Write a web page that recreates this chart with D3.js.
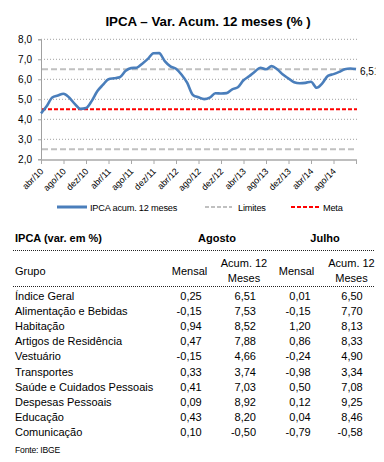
<!DOCTYPE html>
<html><head><meta charset="utf-8">
<script src="https://cdn.jsdelivr.net/npm/d3@7"></script>
<style>
html,body{margin:0;padding:0;background:#fff;overflow:hidden;}
svg{display:block;font-family:"Liberation Sans",Arial,sans-serif;}
</style></head>
<body>
<svg id="c" width="384" height="462"></svg>
<script>
// ---- chart data (monthly) ----
const ipca = [4.30,4.65,5.09,5.19,5.28,5.09,4.77,4.52,4.56,4.91,5.40,5.72,6.00,6.05,6.10,6.41,6.56,6.58,6.78,7.02,7.30,7.31,6.91,6.65,6.53,6.23,5.82,5.22,5.10,5.01,5.08,5.30,5.29,5.31,5.50,5.60,5.95,6.15,6.38,6.58,6.50,6.66,6.50,6.24,6.04,5.85,5.80,5.82,5.88,5.58,5.80,6.17,6.26,6.37,6.50,6.54,6.51];
const tickLabels = ["abr/10","ago/10","dez/10","abr/11","ago/11","dez/11","abr/12","ago/12","dez/12","abr/13","ago/13","dez/13","abr/14","ago/14"];
const yTicks = [2,3,4,5,6,7,8];
const limites = [2.5,6.5];
const meta = 4.5;
const lastLabel = "6,51";
const title = "IPCA – Var. Acum. 12 meses (% )";
const legendItems = ["IPCA acum. 12 meses","Limites","Meta"];

// ---- table data ----
const groups = ["Índice Geral","Alimentação e Bebidas","Habitação","Artigos de Residência","Vestuário","Transportes","Saúde e Cuidados Pessoais","Despesas Pessoais","Educação","Comunicação"];
const agoMensal = ["0,25","-0,15","0,94","0,47","-0,15","0,33","0,41","0,09","0,43","0,10"];
const agoAcum   = ["6,51","7,53","8,52","7,88","4,66","3,74","7,03","8,92","8,20","-0,50"];
const julMensal = ["0,01","-0,15","1,20","0,86","-0,24","-0,98","0,50","0,12","0,04","-0,79"];
const julAcum   = ["6,50","7,70","8,13","8,33","4,90","3,34","7,08","9,25","8,46","-0,58"];

const svg = d3.select("#c");
const x = d3.scaleLinear().domain([0, ipca.length-1]).range([41, 356]);
const y = d3.scaleLinear().domain([2, 8]).range([159.3, 39.3]);
const fmt = d3.format(".1f");
const xEnd = 357;

svg.append("text").attr("x",208).attr("y",26).attr("text-anchor","middle")
  .attr("font-weight","bold").attr("font-size",13.3).text(title);

// gridlines
svg.append("g").selectAll("line").data(yTicks.filter(d=>d>2)).join("line")
  .attr("x1",41).attr("x2",xEnd).attr("y1",d=>y(d)).attr("y2",d=>y(d))
  .attr("stroke","#a0a0a0").attr("stroke-width",1).attr("stroke-dasharray","1,2");

// y axis
const yAxis = svg.append("g").attr("transform","translate(41,0)")
  .call(d3.axisLeft(y).tickValues(yTicks).tickSize(3).tickFormat(d=>fmt(d).replace(".",",")));
yAxis.select(".domain").attr("stroke","#a0a0a0");
yAxis.selectAll(".tick line").attr("stroke","#a0a0a0");
yAxis.selectAll(".tick text").attr("x",-9).attr("font-size",10).attr("fill","#000")
  .attr("font-family","'Liberation Sans',Arial,sans-serif");

// reference lines
svg.append("g").selectAll("line").data(limites).join("line")
  .attr("x1",42).attr("x2",xEnd).attr("y1",d=>y(d)).attr("y2",d=>y(d))
  .attr("stroke","#c0c0c0").attr("stroke-width",2).attr("stroke-dasharray","6,3");
svg.append("line").attr("x1",42).attr("x2",xEnd).attr("y1",y(meta)).attr("y2",y(meta))
  .attr("stroke","#ff0000").attr("stroke-width",2).attr("stroke-dasharray","4,2");

// x axis
const xt = d3.range(0, ipca.length, 4);
const xAxis = svg.append("g").attr("transform","translate(0,160)")
  .call(d3.axisBottom(x).tickValues(xt).tickSize(4).tickFormat(""));
xAxis.select(".domain").attr("stroke","#a8a8a8").attr("stroke-width",1.6)
  .attr("d",`M41,0H${xEnd}`);
xAxis.selectAll(".tick line").attr("stroke","#a8a8a8");
svg.append("g").selectAll("text").data(tickLabels).join("text")
  .attr("transform",(d,i)=>`translate(${x(xt[i])+3},172) rotate(-45)`)
  .attr("text-anchor","end").attr("font-size",9).text(d=>d);

// series line
const line = d3.line().x((d,i)=>x(i)).y(d=>y(d)).curve(d3.curveMonotoneX);
svg.append("path").datum(ipca).attr("d",line).attr("fill","none")
  .attr("stroke","#4a7ebb").attr("stroke-width",2.6).attr("stroke-linejoin","round");

// last value label
svg.append("clipPath").attr("id","clipR").append("rect").attr("x",0).attr("y",0).attr("width",375.5).attr("height",462);
svg.append("text").attr("clip-path","url(#clipR)")
  .attr("x",x(ipca.length-1)+4).attr("y",y(ipca[ipca.length-1])+5.5)
  .attr("font-size",10).text(lastLabel);

// legend
const lg = svg.append("g");
const legStyles = [
  {x1:57,x2:87,tx:90,stroke:"#4a7ebb",w:3,dash:null},
  {x1:205,x2:232,tx:238,stroke:"#c0c0c0",w:2,dash:"4,2"},
  {x1:291,x2:320,tx:323,stroke:"#ff0000",w:2,dash:"4,2"}];
legendItems.forEach((t,i)=>{
  const s = legStyles[i];
  lg.append("line").attr("x1",s.x1).attr("x2",s.x2).attr("y1",207).attr("y2",207)
    .attr("stroke",s.stroke).attr("stroke-width",s.w).attr("stroke-dasharray",s.dash);
  lg.append("text").attr("x",s.tx).attr("y",210.5).attr("font-size",9.2).attr("letter-spacing",-0.2).text(t);
});

// ---- table ----
const tb = svg.append("g");
tb.append("text").attr("x",15).attr("y",241.5).attr("font-weight","bold").attr("font-size",11).text("IPCA (var. em %)");
tb.append("text").attr("x",217).attr("y",241.5).attr("text-anchor","middle").attr("font-weight","bold").attr("font-size",11).text("Agosto");
tb.append("text").attr("x",325).attr("y",241.5).attr("text-anchor","middle").attr("font-weight","bold").attr("font-size",11).text("Julho");
[250.5, 286.5].forEach(yy=>{
  tb.append("line").attr("x1",13).attr("x2",374).attr("y1",yy).attr("y2",yy)
    .attr("stroke","#222").attr("stroke-width",1).attr("stroke-dasharray","1,1");
});
tb.append("text").attr("x",15).attr("y",274.5).attr("font-size",11).text("Grupo");
[[189.5,"Mensal"],[296.5,"Mensal"]].forEach(([cx,t])=>{
  tb.append("text").attr("x",cx).attr("y",274.5).attr("text-anchor","middle").attr("font-size",11).text(t);
});
[244,351.5].forEach(cx=>{
  tb.append("text").attr("x",cx).attr("y",266.5).attr("text-anchor","middle").attr("font-size",11).text("Acum. 12");
  tb.append("text").attr("x",cx).attr("y",281.5).attr("text-anchor","middle").attr("font-size",11).text("Meses");
});
const rowY = d3.scaleLinear().domain([0,groups.length-1]).range([300,436]);
const cols = [[agoMensal,201.7],[agoAcum,256],[julMensal,310.7],[julAcum,362.7]];
tb.append("g").selectAll("text").data(groups).join("text")
  .attr("x",15).attr("y",(d,i)=>rowY(i)).attr("font-size",11).text(d=>d);
cols.forEach(([arr,rx])=>{
  tb.append("g").selectAll("text").data(arr).join("text")
    .attr("x",rx).attr("y",(d,i)=>rowY(i)).attr("text-anchor","end").attr("font-size",11).text(d=>d);
});
tb.append("text").attr("x",15).attr("y",452.5).attr("font-size",8.6).attr("letter-spacing",-0.2).text("Fonte: IBGE");
</script>
</body></html>
